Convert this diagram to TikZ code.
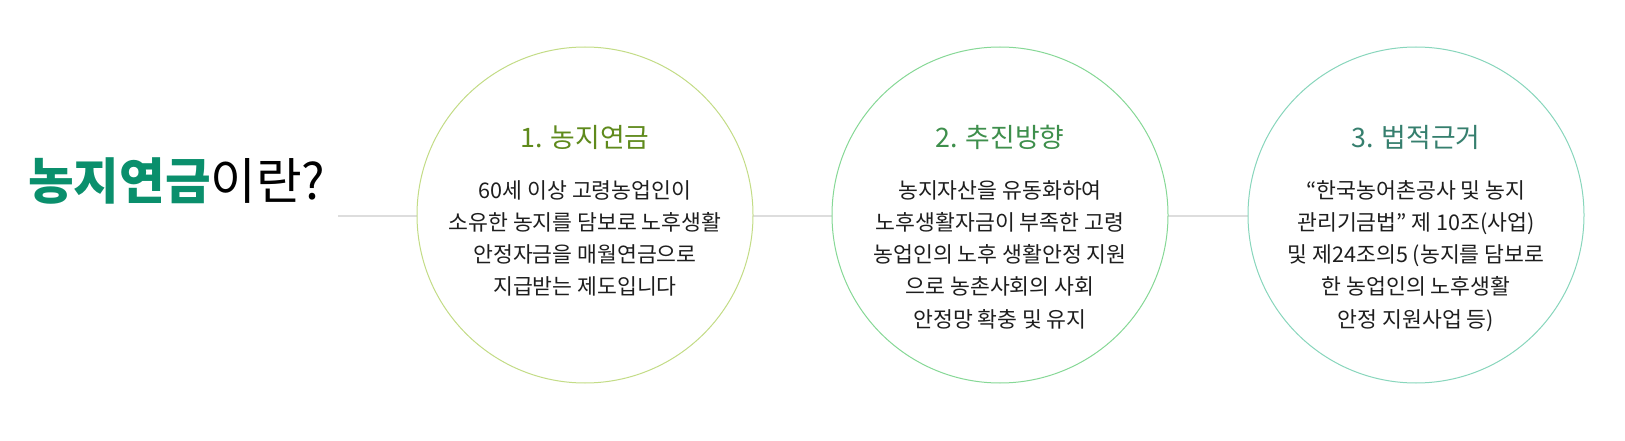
\documentclass[tikz,border=0pt]{standalone}
\usepackage{fontspec}
\setmainfont{Noto Sans CJK KR}
\definecolor{titlegreen}{HTML}{0A8F6C}
\definecolor{tone}{HTML}{5F8A1C}
\definecolor{ttwo}{HTML}{3E8F4C}
\definecolor{tthree}{HTML}{367F6E}
\definecolor{cone}{HTML}{C3DC86}
\definecolor{ctwo}{HTML}{86D896}
\definecolor{cthree}{HTML}{88D6BC}
\definecolor{linegray}{HTML}{DDDDDD}
\definecolor{bodytext}{HTML}{1E1E1E}
\tikzset{
  circ/.style={circle, minimum size=336pt, inner sep=0pt, line width=1pt, fill=white},
  ctitle/.style={font=\fontsize{26.8}{32}\selectfont, anchor=center},
  cbody/.style={font=\fontsize{21.6}{32.3}\selectfont, align=center, text=bodytext, anchor=north, inner sep=0pt},
}
\begin{document}
\begin{tikzpicture}[x=1pt,y=-1pt]
\useasboundingbox (0,0) rectangle (1625,441);
\coordinate (ls) at (338,216);
\coordinate (le) at (1248,216);
\draw[linegray, line width=1.5pt] (ls) -- (le);
\node[circ, draw=cone] (c1) at (585,215) {};
\node[circ, draw=ctwo] (c2) at (1000,215) {};
\node[circ, draw=cthree] (c3) at (1416,215) {};
\node[anchor=base west, inner sep=0pt, font=\fontsize{49.6}{54}\selectfont] (title) at (28,199)
  {\textcolor{titlegreen}{\bfseries 농지연금}이란?};
\node[ctitle, text=tone] (t1) at (585,137) {1. 농지연금};
\node[ctitle, text=ttwo] (t2) at (1000,137) {2. 추진방향};
\node[ctitle, text=tthree] (t3) at (1416,137) {3. 법적근거};
\node[cbody] (b1) at (585,180) {60세 이상 고령농업인이\\소유한 농지를 담보로 노후생활\\안정자금을 매월연금으로\\지급받는 제도입니다};
\node[cbody] (b2) at (1000,180) {농지자산을 유동화하여\\노후생활자금이 부족한 고령\\농업인의 노후 생활안정 지원\\으로 농촌사회의 사회\\안정망 확충 및 유지};
\node[cbody] (b3) at (1416,180) {“한국농어촌공사 및 농지\\관리기금법” 제 10조(사업)\\및 제24조의5 (농지를 담보로\\한 농업인의 노후생활\\안정 지원사업 등)};
\end{tikzpicture}
\end{document}
